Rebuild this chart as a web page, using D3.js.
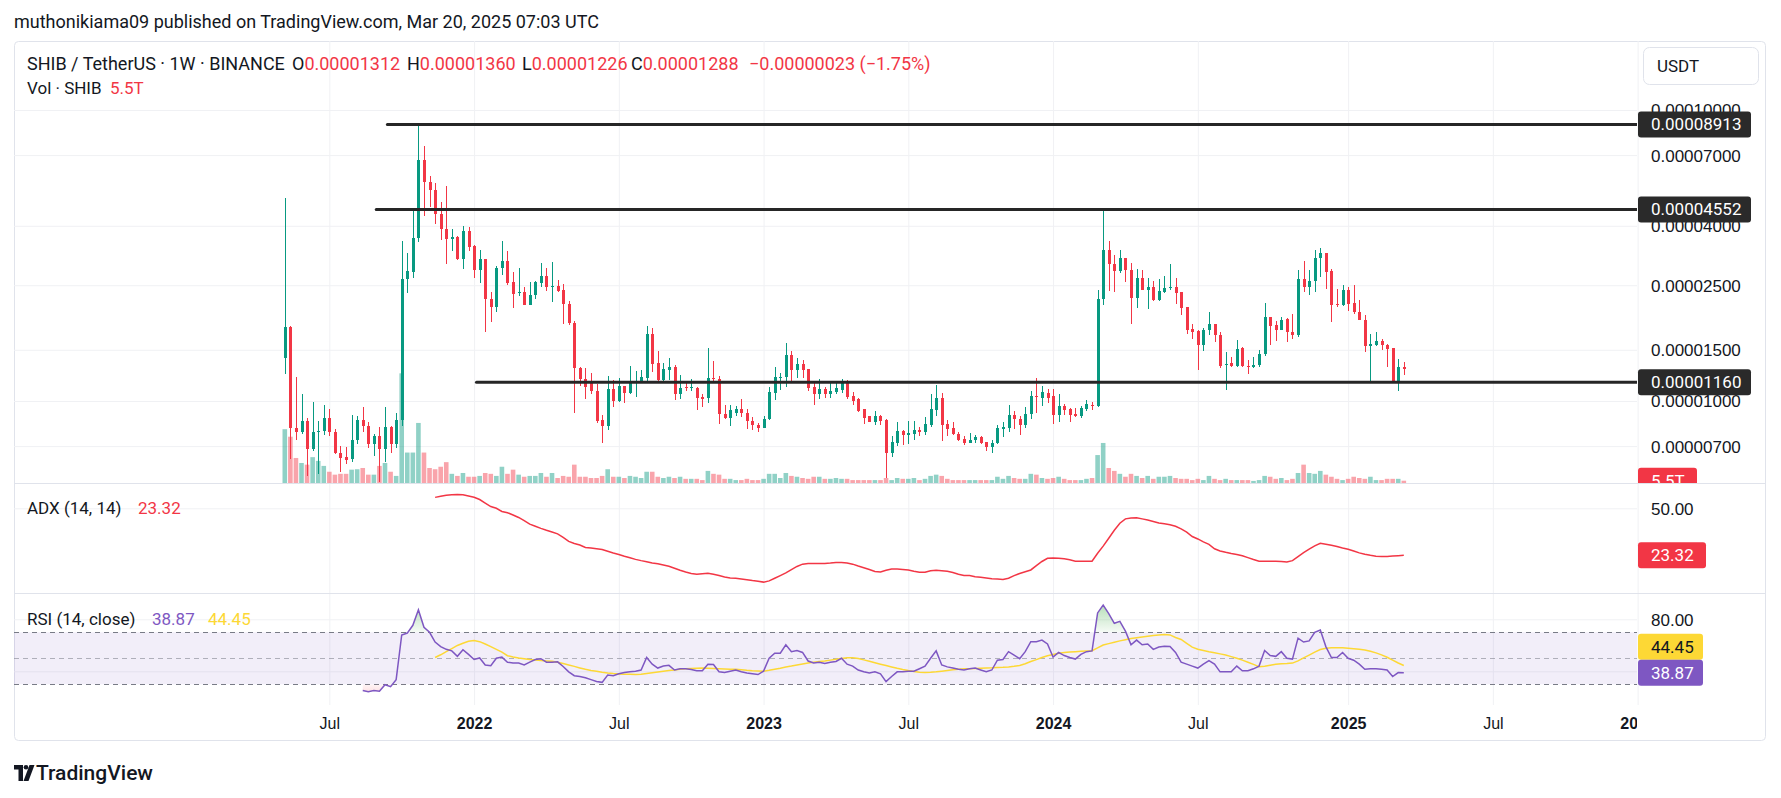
<!DOCTYPE html>
<html><head><meta charset="utf-8">
<script src="https://cdn.jsdelivr.net/npm/d3@7/dist/d3.min.js"></script>
<style>
html,body{margin:0;padding:0;background:#fff;}
svg{display:block;font-family:Roboto,"Noto Sans",sans-serif;}
</style></head><body>
<svg id="c" width="1781" height="798"></svg>
<script>
// ---------- DATA (prices in units of 1e-5 USDT, volume in trillions) ----------
const firstWeek = "2021-05-10";
const open = [1.41,1.80,0.807,0.785,0.852,0.685,0.78,0.79,0.874,0.785,0.661,0.643,0.631,0.734,0.860,0.819,0.709,0.759,0.685,0.814,0.709,0.858,2.62,2.78,3.63,6.71,5.67,5.32,4.39,3.90,3.61,3.67,3.07,3.84,3.41,2.82,3.07,2.25,2.11,2.87,
3.03,2.56,2.36,2.36,2.14,2.31,2.55,2.69,2.47,2.48,2.40,2.15,1.86,1.30,1.19,1.155,1.08,0.86,0.822,1.10,1.00,1.125,1.067,1.153,1.163,1.20,1.70,1.348,1.182,1.276,1.308,1.06,1.115,1.105,1.108,1.032,1.022,1.20,1.19,0.904,0.874,
0.91,0.938,0.912,0.855,0.83,0.81,0.866,1.067,1.20,1.21,1.44,1.276,1.34,1.29,1.118,1.06,1.10,1.06,1.074,1.095,1.164,1.04,1.016,0.938,0.885,0.847,0.888,0.86,0.663,0.72,0.79,0.766,0.771,0.792,0.783,0.83,0.935,1.022,0.834,0.805,0.773,0.742,
0.72,0.732,0.752,0.723,0.694,0.718,0.80,0.81,0.896,0.868,0.83,0.90,1.042,1.025,1.064,1.04,0.896,0.96,0.938,0.901,0.885,0.938,0.967,0.959,2.25,3.30,2.96,2.80,3.09,2.81,2.26,2.644,2.41,2.47,2.22,2.37,2.44,2.46,2.36,2.10,1.77,
1.745,1.553,1.76,1.84,1.69,1.335,1.35,1.32,1.525,1.32,1.31,1.33,1.45,1.944,1.83,1.76,1.91,1.72,1.69,2.62,2.47,2.59,3.09,3.22,2.80,2.15,2.13,2.41,2.17,2.03,1.90,1.55,1.56,1.61,1.56,1.52,1.167,1.312];
const high = [5.00,1.81,1.21,1.057,0.874,0.991,0.852,0.967,0.938,0.802,0.70,0.694,0.896,0.885,0.953,0.847,0.768,0.817,0.953,0.818,0.907,3.54,3.22,4.49,8.913,7.50,5.94,5.62,4.82,5.47,3.90,3.68,3.99,3.96,3.44,3.30,3.08,2.36,2.90,3.54,
3.28,2.77,2.87,2.46,2.56,2.58,2.97,2.87,3.00,2.60,2.53,2.21,1.885,1.31,1.30,1.25,1.14,0.898,1.22,1.18,1.196,1.13,1.32,1.27,1.275,1.81,1.78,1.49,1.348,1.40,1.33,1.23,1.164,1.186,1.12,1.06,1.525,1.373,1.22,0.967,0.967,
0.959,1.019,0.938,0.88,0.84,0.888,1.118,1.304,1.253,1.58,1.48,1.40,1.38,1.29,1.17,1.19,1.118,1.16,1.17,1.19,1.178,1.078,1.022,0.938,0.888,0.925,0.894,0.866,0.759,0.847,0.797,0.852,0.852,0.814,0.88,1.057,1.139,1.067,0.86,0.85,0.78,0.759,
0.778,0.764,0.761,0.723,0.734,0.83,0.847,0.967,0.925,0.888,0.953,1.08,1.20,1.13,1.10,1.10,1.06,0.98,0.944,0.944,0.962,1.01,0.994,2.40,4.552,3.54,3.18,3.30,3.09,2.97,2.84,2.81,2.64,2.59,2.62,2.68,2.955,2.64,2.36,2.10,1.84,
1.76,1.78,2.02,1.84,1.73,1.47,1.42,1.62,1.535,1.386,1.42,1.50,2.17,1.944,1.89,1.95,1.93,1.985,2.81,3.03,2.83,3.30,3.35,3.22,2.84,2.43,2.50,2.46,2.50,2.22,1.97,1.70,1.73,1.63,1.568,1.52,1.39,1.360];
const low = [1.24,0.633,0.736,0.771,0.554,0.671,0.563,0.766,0.759,0.655,0.572,0.608,0.615,0.714,0.780,0.687,0.649,0.526,0.619,0.663,0.687,0.822,2.35,2.65,3.52,4.33,4.64,4.07,3.58,2.96,3.28,3.04,2.84,3.28,2.65,2.55,1.72,1.87,2.03,2.71,
2.50,2.09,2.30,2.13,2.13,2.25,2.47,2.38,2.19,2.37,1.84,1.82,0.912,1.13,1.02,1.06,0.839,0.718,0.792,0.956,0.995,0.988,1.06,1.035,1.153,1.175,1.26,1.175,1.175,1.182,1.01,1.02,1.08,1.08,0.935,0.956,0.988,1.15,0.836,0.866,0.822,
0.889,0.878,0.802,0.795,0.783,0.807,0.858,1.01,1.09,1.12,1.175,1.20,1.20,1.084,0.967,1.016,1.022,1.022,1.057,1.064,1.013,0.97,0.917,0.836,0.844,0.83,0.827,0.542,0.643,0.70,0.707,0.709,0.736,0.759,0.766,0.814,0.885,0.731,0.759,0.763,0.727,0.705,
0.716,0.716,0.712,0.674,0.663,0.709,0.752,0.78,0.802,0.766,0.807,0.868,0.912,0.962,0.988,0.834,0.85,0.896,0.847,0.88,0.877,0.923,0.929,0.953,2.13,2.38,2.37,2.75,2.56,1.84,2.09,2.40,2.07,2.21,2.21,2.35,2.41,2.15,1.98,1.70,1.63,
1.276,1.483,1.69,1.59,1.30,1.09,1.31,1.31,1.31,1.24,1.30,1.31,1.43,1.563,1.61,1.75,1.60,1.63,1.66,2.37,2.32,2.36,2.67,2.43,1.87,2.11,2.12,2.04,1.99,1.90,1.474,1.163,1.54,1.50,1.31,1.16,1.084,1.226];
const close = [1.80,0.807,0.785,0.852,0.685,0.783,0.79,0.874,0.783,0.661,0.635,0.629,0.734,0.860,0.819,0.712,0.761,0.685,0.814,0.709,0.860,2.62,2.795,3.63,6.71,5.67,5.32,4.39,3.90,3.61,3.65,3.07,3.84,3.39,2.82,3.08,2.25,2.11,2.87,3.03,
2.55,2.34,2.37,2.14,2.31,2.56,2.69,2.46,2.48,2.39,2.15,1.85,1.30,1.19,1.12,1.08,0.852,0.822,1.10,1.003,1.125,1.067,1.16,1.167,1.207,1.70,1.344,1.182,1.284,1.308,1.06,1.108,1.105,1.115,1.022,1.019,1.20,1.19,0.901,0.874,0.932,
0.938,0.912,0.855,0.827,0.81,0.866,1.074,1.207,1.21,1.44,1.276,1.34,1.276,1.11,1.06,1.10,1.06,1.08,1.105,1.164,1.035,1.00,0.926,0.874,0.847,0.888,0.855,0.663,0.723,0.79,0.763,0.776,0.792,0.785,0.834,0.938,1.022,0.827,0.802,0.768,0.734,0.716,
0.736,0.752,0.718,0.694,0.718,0.807,0.814,0.896,0.868,0.83,0.901,1.038,1.035,1.078,1.028,0.896,0.962,0.932,0.893,0.885,0.944,0.976,0.959,2.25,3.30,2.955,2.80,3.09,2.81,2.26,2.644,2.41,2.47,2.22,2.38,2.44,2.46,2.35,2.09,1.757,1.73,
1.553,1.76,1.84,1.69,1.32,1.34,1.32,1.515,1.315,1.31,1.335,1.45,1.944,1.81,1.76,1.90,1.72,1.69,2.62,2.47,2.59,3.09,3.22,2.78,2.13,2.13,2.41,2.16,2.03,1.90,1.55,1.57,1.61,1.56,1.515,1.167,1.311,1.288];
const volume = [129,111,60,48,44,62,53,41,27,20,22,22,32,33,36,20,20,41,48,27,17,263,73,73,144,73,36,33,39,50,22,17,24,15,15,17,24,22,17,39,
22,32,20,15,17,17,24,15,24,12,17,15,44,15,15,12,12,17,33,15,15,12,17,15,12,27,27,15,12,15,12,15,10,10,10,7,29,22,20,10,10,
7,7,10,7,7,10,22,22,12,24,17,15,12,10,15,15,10,10,12,10,10,7,7,7,7,7,7,12,7,12,10,10,12,7,10,17,20,17,10,7,7,7,
7,7,7,7,7,15,10,17,12,10,10,22,20,12,10,12,15,10,7,7,7,10,12,67,96,36,29,22,15,22,17,12,17,10,15,15,17,12,10,10,7,
10,7,17,10,7,10,7,7,7,7,5,7,17,15,10,12,7,10,24,44,24,22,29,20,15,10,7,10,15,12,10,15,7,7,10,10,10,5.5];
// ADX (14,14): first value on week 28 (2021-11-15)
const adxFirstWeek = "2021-11-15";
const adx = [56.2,56.8,57.4,57.7,57.8,57.7,57.0,56.3,55.0,53.0,51.0,50.0,48.2,
47.5,46.2,44.8,43.0,41.0,39.8,38.6,37.5,36.5,35.5,33.5,31.2,30.0,29.2,27.8,27.4,27.0,26.6,25.6,24.6,23.8,22.8,21.9,21.0,20.3,19.7,19.0,18.5,17.8,17.1,16.0,14.8,13.8,13.0,12.5,12.8,13.1,12.6,11.8,11.0,10.4,
10.3,9.9,9.5,9.0,8.6,8.1,8.8,10.3,11.8,13.3,15.2,17.0,18.3,18.6,18.7,18.7,18.7,18.9,19.2,19.3,19.0,18.3,17.2,16.3,15.3,14.1,13.8,14.8,15.5,15.5,15.3,15.0,14.3,13.7,13.7,14.6,14.9,14.6,14.2,13.6,12.6,11.9,
11.8,11.2,10.8,10.4,10.0,9.8,9.6,10.3,11.8,13.0,14.0,15.0,17.5,19.8,21.6,21.8,21.6,21.3,20.8,20.0,20.0,20.0,20.0,24.5,28.5,33.0,37.5,41.5,44.0,44.5,44.6,44.0,43.3,42.5,41.7,41.2,40.7,39.8,38.3,36.5,34.0,
32.6,30.9,29.5,27.0,25.8,25.0,24.3,23.8,23.1,22.0,20.9,19.9,19.9,20.0,19.9,19.8,19.5,20.3,22.6,24.8,26.8,28.7,30.1,29.6,29.0,28.3,27.5,26.8,25.8,24.7,23.9,23.3,22.8,22.6,22.6,22.9,23.1,23.32];
// RSI (14, close): first value on week 15 (2021-08-16)
const rsiFirstWeek = "2021-08-16";
const rsi = [25.2,24.3,25.2,24.6,29.7,28.2,33.6,67.9,69.4,75.4,87.3,73.9,70.0,62.5,59.0,56.9,55.7,51.5,56.6,53.0,49.1,50.3,44.9,44.3,50.0,50.9,
47.0,46.4,46.4,44.9,47.0,49.1,49.7,47.0,47.0,47.3,43.7,39.6,36.6,36.0,35.1,33.6,32.1,31.5,37.2,36.6,38.1,39.0,39.6,40.1,41.0,50.6,45.5,42.5,44.0,44.6,41.0,41.9,41.9,41.3,40.4,40.4,45.5,45.2,39.6,39.0,40.1,
41.0,39.6,38.7,38.1,37.5,40.1,50.0,53.9,53.9,60.4,55.1,56.0,54.5,47.9,46.4,47.0,46.1,47.0,47.6,50.0,45.5,44.0,41.0,39.6,38.7,39.6,38.1,32.1,36.0,39.6,39.6,40.1,40.1,42.0,44.0,50.0,55.7,44.9,43.4,42.5,41.5,41.0,
41.9,42.5,41.0,39.6,41.0,48.5,49.1,55.1,52.4,49.7,55.1,62.8,62.8,64.0,61.0,50.9,54.5,52.1,50.6,49.4,53.0,55.1,55.7,84.9,90.9,84.3,76.9,78.4,70.9,60.4,64.0,60.4,61.0,56.9,58.7,59.3,59.0,54.5,47.0,45.5,44.0,
42.5,45.5,48.2,45.5,39.6,39.6,39.6,44.0,40.4,40.4,41.9,44.0,56.0,52.1,51.5,55.1,50.0,49.4,65.5,62.5,63.4,70.0,71.8,59.0,50.6,50.6,54.5,50.0,48.5,45.5,41.6,41.9,41.9,41.6,41.0,36.0,39.0,38.87];
// RSI-based MA: first value on week 28 (2021-11-15)
const rsiMaFirstWeek = "2021-11-15";
const rsiMa = [50.6,52.7,55.1,57.5,59.9,61.6,63.1,63.7,62.8,61.0,59.0,56.9,54.8,
52.0,51.0,50.2,49.6,49.0,48.6,48.3,48.0,47.7,47.0,46.0,44.9,43.8,42.6,41.5,40.7,40.0,39.2,38.7,38.3,38.0,37.8,37.7,37.5,37.7,38.3,38.9,39.5,40.1,40.6,41.0,41.5,41.9,42.1,42.3,42.5,42.4,42.2,42.0,41.8,41.6,
41.6,41.2,40.8,40.5,40.3,40.1,40.8,41.6,42.4,43.3,44.0,44.8,45.6,46.4,47.0,47.6,48.0,48.6,49.2,49.8,50.4,50.5,49.8,48.8,47.7,46.6,45.5,44.4,43.3,42.3,41.4,40.6,39.9,39.3,39.0,39.2,39.6,40.1,40.6,41.1,41.5,41.9,
41.9,42.1,42.4,42.6,42.7,42.9,43.1,43.4,43.8,44.5,45.8,47.5,49.0,50.6,52.0,53.0,53.8,54.4,54.8,55.1,55.4,55.6,55.8,58.0,60.2,61.3,62.4,63.4,64.3,65.2,65.8,66.4,67.0,67.5,68.0,68.4,68.0,66.0,64.5,61.5,58.6,
57.0,56.0,55.0,54.2,53.4,52.5,51.3,50.0,48.6,47.0,45.3,43.5,43.8,44.6,45.4,45.8,46.0,46.3,48.0,50.3,52.5,54.8,56.8,57.8,58.2,58.2,58.1,57.8,57.4,56.9,56.3,55.4,54.2,52.6,50.8,48.6,46.4,44.45];
// horizontal levels drawn on the chart
const levelPrices = [0.00008913, 0.00004552, 0.00001160];
const levelStarts = ["2021-09-16", "2021-09-02", "2022-01-06"];
// axis ticks
const priceTicks = [0.0001, 0.00007, 0.00004, 0.000025, 0.000015, 0.00001, 0.000007];
const timeTicks = ["2021-07-05","2022-01-03","2022-07-04","2023-01-02","2023-07-03","2024-01-01","2024-07-01","2025-01-06","2025-07-07","2026-01-05"];
const timeLabels = ["Jul","2022","Jul","2023","Jul","2024","Jul","2025","Jul","2026"];
const adxTicks = [50];
const rsiTicks = [80, 40];
const rsiBands = [70, 50, 30];
const lastVolLabel = "5.5T";

// ---------- LAYOUT ----------
const U = 1e-5;
const P = d3.utcParse("%Y-%m-%d");
const L = 14, R = 1637, FR = 1766;
const mainTop = 41, mainBot = 483, adxBot = 593, rsiBot = 705, frameBot = 741;
const TXT = "#131722", UP = "#089981", DN = "#F23645";

const svg = d3.select("#c");
const defs = svg.append("defs");
function clip(id, x, y, w, h){ defs.append("clipPath").attr("id", id).append("rect").attr("x",x).attr("y",y).attr("width",w).attr("height",h); }
clip("cMain", L, mainTop, R-L, mainBot-mainTop);
clip("cMainAxis", L, mainTop, FR-L, mainBot-mainTop);
clip("cAdx", L, mainBot, R-L, adxBot-mainBot);
clip("cRsi", L, adxBot, R-L, rsiBot-adxBot);
clip("cTime", L, rsiBot, R-L, frameBot-rsiBot);

const start = P(firstWeek);
const weeks = open.map((_, i) => d3.utcWeek.offset(start, i));
const data = weeks.map((d, i) => ({d, o: open[i]*U, h: high[i]*U, l: low[i]*U, c: close[i]*U, v: volume[i]}));
const lastD = weeks[weeks.length-1];

const x = d3.scaleUtc().domain([start, lastD]).range([284.8, 1403.8]);
const y = d3.scaleLog().domain([0.000007, 0.0001]).range([446.1, 110]);
const yv = d3.scaleLinear().domain([0, d3.max(volume)*4.03]).range([mainBot, mainTop]);
const ya = d3.scaleLinear().domain([50, 23.32]).range([508.3, 555.3]);
const yr = d3.scaleLinear().domain([80, 40]).range([619.3, 671.3]);

function series(arr, first){ const s = P(first); return arr.map((v, i) => ({d: d3.utcWeek.offset(s, i), v})); }
const adxS = series(adx, adxFirstWeek), rsiS = series(rsi, rsiFirstWeek), maS = series(rsiMa, rsiMaFirstWeek);

// frame
svg.append("rect").attr("x", L+0.5).attr("y", mainTop+0.5).attr("width", FR-L-1).attr("height", frameBot-mainTop-1)
  .attr("rx", 4).attr("fill", "#fff").attr("stroke", "#e0e3eb");

// grid: vertical
const gridC = "#f0f1f4";
svg.append("g").attr("transform", `translate(0,${rsiBot})`)
  .call(d3.axisBottom(x).tickValues(timeTicks.map(P)).tickSize(-(rsiBot-mainTop)).tickFormat(""))
  .call(g => { g.select(".domain").remove(); g.selectAll("line").attr("stroke", gridC); });
// grid: horizontal
function hgrid(scale, ticks){
  svg.append("g").attr("transform", `translate(${R},0)`)
    .call(d3.axisLeft(scale).tickValues(ticks).tickSize(R-L).tickFormat(""))
    .call(g => { g.select(".domain").remove(); g.selectAll("line").attr("stroke", gridC); });
}
hgrid(y, priceTicks); hgrid(ya, adxTicks); hgrid(yr, rsiTicks);

// pane separators
[mainBot, adxBot].forEach(v => svg.append("line").attr("x1", L).attr("x2", FR).attr("y1", v+0.5).attr("y2", v+0.5).attr("stroke", "#e0e3eb"));

// ---------- MAIN PANE ----------
const gm = svg.append("g").attr("clip-path", "url(#cMain)");
gm.append("g").selectAll("rect").data(data).join("rect")
  .attr("x", d => x(d.d) - 2.3).attr("width", 4.6)
  .attr("y", d => yv(d.v)).attr("height", d => mainBot - yv(d.v))
  .attr("fill", d => d.c >= d.o ? UP : DN).attr("fill-opacity", 0.45);
const cg = gm.append("g").attr("shape-rendering", "crispEdges");
cg.selectAll("line").data(data).join("line")
  .attr("x1", d => Math.round(x(d.d)) + 0.5).attr("x2", d => Math.round(x(d.d)) + 0.5)
  .attr("y1", d => y(d.h)).attr("y2", d => y(d.l))
  .attr("stroke", d => d.c >= d.o ? UP : DN);
cg.selectAll("rect").data(data).join("rect")
  .attr("x", d => Math.round(x(d.d)) - 1).attr("width", 3)
  .attr("y", d => y(Math.max(d.o, d.c))).attr("height", d => Math.max(1, Math.abs(y(d.o) - y(d.c))))
  .attr("fill", d => d.c >= d.o ? UP : DN);
const lv = levelPrices.map((p, i) => ({p, s: P(levelStarts[i])}));
gm.append("g").selectAll("line").data(lv).join("line")
  .attr("x1", d => x(d.s)).attr("x2", R).attr("y1", d => y(d.p)).attr("y2", d => y(d.p))
  .attr("stroke", "#262626").attr("stroke-width", 3).attr("stroke-linecap", "round");

// ---------- ADX PANE ----------
svg.append("g").attr("clip-path", "url(#cAdx)").append("path").datum(adxS)
  .attr("d", d3.line().x(d => x(d.d)).y(d => ya(d.v)))
  .attr("fill", "none").attr("stroke", DN).attr("stroke-width", 1.5);

// ---------- RSI PANE ----------
const gr = svg.append("g").attr("clip-path", "url(#cRsi)");
gr.append("rect").attr("x", L).attr("width", R-L).attr("y", yr(70)).attr("height", yr(30)-yr(70)).attr("fill", "rgba(126,87,194,0.1)");
rsiBands.forEach(b => gr.append("line").attr("x1", L).attr("x2", R).attr("y1", Math.round(yr(b))+0.5).attr("y2", Math.round(yr(b))+0.5)
  .attr("stroke", b === 50 ? "rgba(120,123,134,0.55)" : "#787B86").attr("stroke-dasharray", "5,4"));
const gOB = defs.append("linearGradient").attr("id", "gOB").attr("x1",0).attr("x2",0).attr("gradientUnits","userSpaceOnUse")
  .attr("y1", yr(100)).attr("y2", yr(70));
gOB.append("stop").attr("offset", 0).attr("stop-color", "rgba(76,175,80,0.55)");
gOB.append("stop").attr("offset", 1).attr("stop-color", "rgba(76,175,80,0.05)");
const gOS = defs.append("linearGradient").attr("id", "gOS").attr("x1",0).attr("x2",0).attr("gradientUnits","userSpaceOnUse")
  .attr("y1", yr(30)).attr("y2", yr(0));
gOS.append("stop").attr("offset", 0).attr("stop-color", "rgba(242,54,69,0.05)");
gOS.append("stop").attr("offset", 1).attr("stop-color", "rgba(242,54,69,0.55)");
clip("cOB", L, 0, R-L, yr(70));
clip("cOS", L, yr(30), R-L, 200);
gr.append("path").datum(rsiS).attr("clip-path", "url(#cOB)")
  .attr("d", d3.area().x(d => x(d.d)).y0(yr(70)).y1(d => yr(d.v))).attr("fill", "url(#gOB)");
gr.append("path").datum(rsiS).attr("clip-path", "url(#cOS)")
  .attr("d", d3.area().x(d => x(d.d)).y0(yr(30)).y1(d => yr(d.v))).attr("fill", "url(#gOS)");
gr.append("path").datum(maS).attr("d", d3.line().x(d => x(d.d)).y(d => yr(d.v)))
  .attr("fill", "none").attr("stroke", "#FDD835").attr("stroke-width", 1.5);
gr.append("path").datum(rsiS).attr("d", d3.line().x(d => x(d.d)).y(d => yr(d.v)))
  .attr("fill", "none").attr("stroke", "#7E57C2").attr("stroke-width", 1.5);

// ---------- AXES ----------
const FS = 17;
function rightAxis(scale, ticks, fmt){
  svg.append("g").attr("transform", `translate(${R+1},0)`)
    .call(d3.axisRight(scale).tickValues(ticks).tickSize(0).tickPadding(13).tickFormat(fmt))
    .call(g => { g.select(".domain").remove();
      g.selectAll("text").attr("fill", TXT).attr("font-size", FS).attr("font-family", null).attr("dy", "0.35em"); });
}
rightAxis(y, priceTicks, d3.format(".8f"));
rightAxis(ya, adxTicks, d3.format(".2f"));
rightAxis(yr, rsiTicks, d3.format(".2f"));

// time axis (wrapped so the clip works in page coordinates)
svg.append("g").attr("clip-path", "url(#cTime)").append("g").attr("transform", `translate(0,${rsiBot})`)
  .call(d3.axisBottom(x).tickValues(timeTicks.map(P)).tickSize(0).tickPadding(13).tickFormat((d, i) => timeLabels[i]))
  .call(g => { g.select(".domain").remove();
    g.selectAll("text").attr("fill", TXT).attr("font-size", 16).attr("font-family", null)
      .attr("font-weight", (d, i) => /^\d/.test(timeLabels[i]) ? 600 : 400); });

// value labels on price scale
function tag(g, yc, w, bg, fg, txt){
  g.append("rect").attr("x", R+1).attr("y", yc-13).attr("width", w).attr("height", 26).attr("rx", 3).attr("fill", bg);
  g.append("text").attr("x", R+14).attr("y", yc).attr("dy", "0.35em").attr("fill", fg).attr("font-size", FS).text(txt);
}
const tagsMain = svg.append("g").attr("clip-path", "url(#cMainAxis)");
tag(tagsMain, yv(volume[volume.length-1]), 59, "#F23645", "#fff", lastVolLabel);
lv.forEach(d => tag(svg, y(d.p), 113, "#2a2a2a", "#fff", d3.format(".8f")(d.p)));
tag(svg, ya(adx[adx.length-1]), 68, "#F23645", "#fff", d3.format(".2f")(adx[adx.length-1]));
const yRsiLast = yr(rsi[rsi.length-1]);
let yMaLast = yr(rsiMa[rsiMa.length-1]);
if (Math.abs(yMaLast - yRsiLast) < 26) yMaLast = yRsiLast - 26;
tag(svg, yMaLast, 65, "#FDD835", TXT, d3.format(".2f")(rsiMa[rsiMa.length-1]));
tag(svg, yRsiLast, 65, "#7E57C2", "#fff", d3.format(".2f")(rsi[rsi.length-1]));

// USDT box
svg.append("rect").attr("x", 1643.5).attr("y", 47.5).attr("width", 115).attr("height", 37).attr("rx", 6).attr("fill", "#fff").attr("stroke", "#e0e3eb");
svg.append("text").attr("x", 1657).attr("y", 66).attr("dy", "0.35em").attr("font-size", 17).attr("fill", TXT).text("USDT");

// ---------- TEXTS ----------
svg.append("text").attr("x", 14).attr("y", 22).attr("dy", "0.35em").attr("font-size", 18).attr("fill", TXT)
  .text("muthonikiama09 published on TradingView.com, Mar 20, 2025 07:03 UTC");
const last = data[data.length-1], prev = data[data.length-2];
const f8 = d3.format(".8f");
const hdr = svg.append("g").attr("fill", TXT);
function ht(xp, yp, s, col, fs){ hdr.append("text").attr("x", xp).attr("y", yp).attr("dy", "0.35em").attr("font-size", fs || 16).attr("fill", col || TXT).text(s); }
ht(27, 64, "SHIB / TetherUS · 1W · BINANCE", TXT, 18);
const chg = last.c - prev.c;
[["O", last.o, 292],["H", last.h, 407],["L", last.l, 522],["C", last.c, 631]].forEach(([k, v, xp]) => {
  const t = hdr.append("text").attr("x", xp).attr("y", 64).attr("dy", "0.35em").attr("font-size", 18);
  t.append("tspan").attr("fill", TXT).text(k);
  t.append("tspan").attr("fill", DN).text(f8(v));
});
ht(749, 64, "−" + f8(Math.abs(chg)) + " (−" + (Math.abs(chg)/prev.c*100).toFixed(2) + "%)", DN, 18);
ht(27, 88, "Vol · SHIB", TXT, 17);
ht(110, 88, lastVolLabel, DN, 17);
ht(27, 508, "ADX (14, 14)", TXT, 17);
ht(138, 508, d3.format(".2f")(adx[adx.length-1]), DN, 17);
ht(27, 619, "RSI (14, close)", TXT, 17);
ht(152, 619, d3.format(".2f")(rsi[rsi.length-1]), "#7E57C2", 17);
ht(208, 619, d3.format(".2f")(rsiMa[rsiMa.length-1]), "#FDD835", 17);

// TradingView logo
const lg = svg.append("g").attr("fill", TXT);
lg.append("path").attr("d", "M14,765 H23 V781 H18.5 V769.5 H14 Z");
lg.append("circle").attr("cx", 26).attr("cy", 767.3).attr("r", 2.3);
lg.append("path").attr("d", "M29.5,765 H34.5 L28.5,781 H23.5 Z");
svg.append("text").attr("x", 36).attr("y", 773).attr("dy", "0.35em").attr("font-size", 21).attr("font-weight", 500).attr("fill", TXT).text("TradingView");
</script>
</body></html>
